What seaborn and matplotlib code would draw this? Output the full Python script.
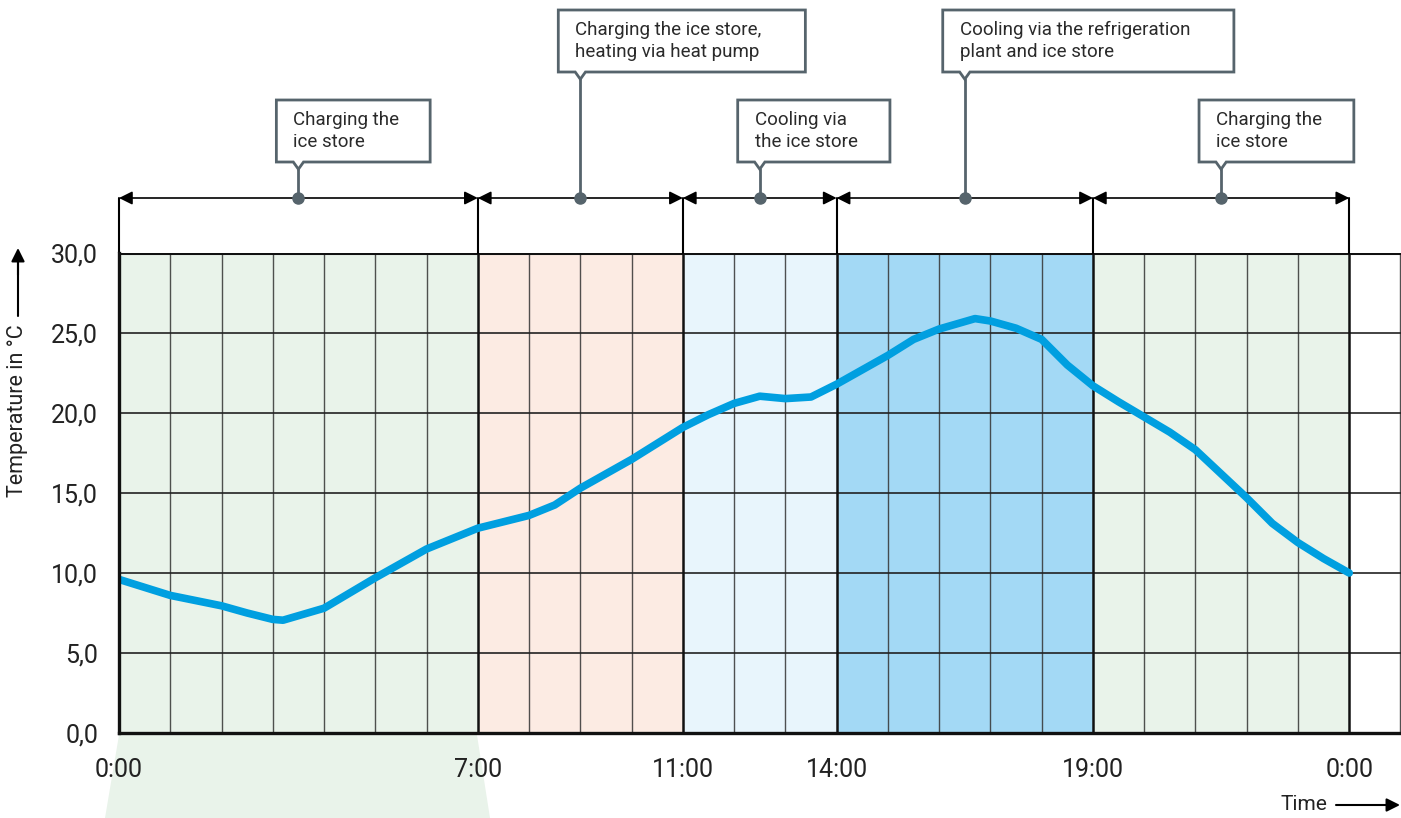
import numpy as np
import pandas as pd
import matplotlib.pyplot as plt
import seaborn as sns
from matplotlib.patches import Polygon

# temperature over the day
hours = [0, 1, 2, 2.5, 3, 3.2, 4, 5, 5.5, 6, 7, 8, 8.5, 9, 10, 10.5, 11, 11.5, 12,
         12.5, 13, 13.5, 14, 14.5, 15, 15.5, 16, 16.7, 17, 17.5, 18, 18.5, 19,
         19.5, 20, 20.5, 21, 21.5, 22, 22.5, 23, 23.5, 24]
temps = [9.6, 8.6, 7.95, 7.5, 7.1, 7.05, 7.8, 9.7, 10.6, 11.5, 12.8, 13.6, 14.25,
         15.3, 17.1, 18.1, 19.1, 19.9, 20.6, 21.05, 20.9, 21.0, 21.8, 22.7, 23.6,
         24.6, 25.25, 25.9, 25.75, 25.3, 24.6, 23.0, 21.7, 20.7, 19.75, 18.8, 17.7,
         16.2, 14.7, 13.1, 11.9, 10.9, 10.0]

phase_starts = [0, 7, 11, 14, 19]
phase_ends = [7, 11, 14, 19, 24]
phase_labels = ["Charging the\nice store",
                "Charging the ice store,\nheating via heat pump",
                "Cooling via\nthe ice store",
                "Cooling via the refrigeration\nplant and ice store",
                "Charging the\nice store"]
tick_pos = [0, 7, 11, 14, 19, 24]
tick_labels = ["0:00", "7:00", "11:00", "14:00", "19:00", "0:00"]
y_ticks = [0, 5, 10, 15, 20, 25, 30]

phase_colors = ["#e9f3ea", "#fcebe3", "#e8f5fc", "#a3d9f5", "#e9f3ea"]
box_widths = [3.0, 4.82, 2.97, 5.68, 3.02]
box_high = [False, True, False, True, False]

sns.set_style("white")
plt.rcParams['font.family'] = ['Roboto', 'DejaVu Sans']

W, H = 1401, 818
fig = plt.figure(figsize=(W / 100, H / 100), dpi=100)
ax = fig.add_axes([119 / W, 1 - 733 / H, (W - 119) / W, 480 / H])
ax.set_xlim(0, 25.01)
ax.set_ylim(0, 30)

# phase bands
for s, e, c in zip(phase_starts, phase_ends, phase_colors):
    ax.axvspan(s, e, color=c, lw=0, zorder=0)

# grid
for h in range(1, 26):
    if h in tick_pos:
        ax.axvline(h, color="#111111", lw=1.8, zorder=2)
    else:
        ax.axvline(h, color="#333333", lw=1.0, alpha=0.85, zorder=1)
for t in y_ticks[1:-1]:
    ax.axhline(t, color="#222222", lw=1.2, zorder=1)
ax.axhline(30, color="#111111", lw=2.2, zorder=2)

df = pd.DataFrame({"hour": hours, "temp": temps})
sns.lineplot(data=df, x="hour", y="temp", color="#009fe0", lw=5.5, ax=ax,
             zorder=5, solid_capstyle="round", solid_joinstyle="round")

for side in ["top", "right"]:
    ax.spines[side].set_visible(False)
ax.spines["left"].set_linewidth(2.4)
ax.spines["bottom"].set_linewidth(2.4)
ax.spines["left"].set_color("#111111")
ax.spines["bottom"].set_color("#111111")
ax.spines["left"].set_zorder(6)
ax.spines["bottom"].set_zorder(6)

ax.set_xticks(tick_pos)
ax.set_xticklabels(tick_labels)
ax.set_yticks(y_ticks)
ax.set_yticklabels([f"{v:.1f}".replace(".", ",") for v in y_ticks])
ax.tick_params(axis="x", length=0, pad=18, labelsize=18, labelcolor="#222222")
ax.tick_params(axis="y", length=0, pad=15, labelsize=18, labelcolor="#222222")
ax.set_xlabel("")
ax.set_ylabel("")

# phase arrows and callouts above the plot
arrow_y = (733 - 198) / 16
box_h = 62 / 16
edge = "#56646c"
for i, (s, e) in enumerate(zip(phase_starts, phase_ends)):
    ax.annotate("", xy=(e, arrow_y), xytext=(s, arrow_y),
                arrowprops=dict(arrowstyle="<|-|>", color="black", lw=1.2,
                                mutation_scale=20, shrinkA=0, shrinkB=0),
                annotation_clip=False)
    mid = (s + e) / 2
    bottom = (733 - 72) / 16 if box_high[i] else (733 - 162) / 16
    left = mid - 0.43
    right = left + box_widths[i]
    top = bottom + box_h
    notch = 0.45
    pts = [(left, bottom), (mid - 0.1, bottom), (mid, bottom - notch),
           (mid + 0.1, bottom), (right, bottom), (right, top), (left, top)]
    ax.add_patch(Polygon(pts, closed=True, facecolor="white", edgecolor=edge,
                         lw=2.0, clip_on=False, zorder=4))
    ax.plot([mid, mid], [arrow_y, bottom - notch], color=edge, lw=2.0,
            clip_on=False, zorder=4)
    ax.plot(mid, arrow_y, "o", color=edge, ms=8, clip_on=False, zorder=5)
    ax.text(left + 0.33, bottom + box_h / 2, phase_labels[i], ha="left",
            va="center", fontsize=13.5, linespacing=1.25, color="#2a2a2a",
            zorder=6, clip_on=False)

for b in tick_pos:
    ax.plot([b, b], [30, arrow_y], color="black", lw=1.5, clip_on=False, zorder=3)

# green wedge below the first phase
fig.add_artist(Polygon([(119 / W, 1 - 735 / H), (477 / W, 1 - 735 / H),
                        (490 / W, 0), (105 / W, 0)], closed=True,
                       facecolor=phase_colors[0], lw=0,
                       transform=fig.transFigure, zorder=0))

# axis labels with arrows
fig.text(18 / W, 1 - 411 / H, "Temperature in °C", rotation=90, ha="center",
         va="center", fontsize=15.5, color="#222222")
fig.add_artist(plt.Line2D([18 / W, 18 / W], [1 - 316 / H, 1 - 262 / H],
                          color="black", lw=1.5, transform=fig.transFigure))
ax.annotate("", xy=(18 / W, 1 - 248 / H), xytext=(18 / W, 1 - 275 / H),
            xycoords="figure fraction", textcoords="figure fraction",
            arrowprops=dict(arrowstyle="-|>", color="black", lw=1.5,
                            mutation_scale=20, shrinkA=0, shrinkB=0))
fig.text(1304 / W, 1 - 805 / H, "Time", ha="center", va="center",
         fontsize=15, color="#222222")
ax.annotate("", xy=(1400 / W, 1 - 805 / H), xytext=(1336 / W, 1 - 805 / H),
            xycoords="figure fraction", textcoords="figure fraction",
            arrowprops=dict(arrowstyle="-|>", color="black", lw=1.5,
                            mutation_scale=20, shrinkA=0, shrinkB=0))

fig.savefig("out.png", dpi=100)
